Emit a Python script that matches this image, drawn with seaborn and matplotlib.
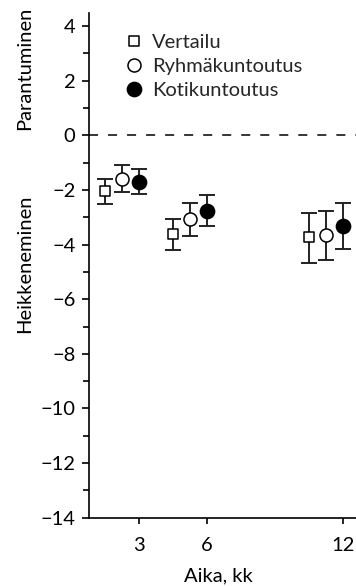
import matplotlib
matplotlib.use("Agg")
import matplotlib.pyplot as plt
import matplotlib.transforms as mtransforms
from matplotlib.ticker import MultipleLocator, FixedLocator
import numpy as np
import pandas as pd
import seaborn as sns

# Change in score over follow-up, mean with 95 % CI
months = [3, 6, 12]
groups = ["Vertailu", "Ryhmäkuntoutus", "Kotikuntoutus"]

vertailu_mean = [-2.05, -3.63, -3.74]
vertailu_low = [-2.52, -4.20, -4.66]
vertailu_high = [-1.61, -3.06, -2.83]

ryhma_mean = [-1.60, -3.07, -3.65]
ryhma_low = [-2.07, -3.68, -4.56]
ryhma_high = [-1.10, -2.49, -2.76]

koti_mean = [-1.70, -2.77, -3.32]
koti_low = [-2.14, -3.32, -4.17]
koti_high = [-1.24, -2.19, -2.47]

yticks = [4, 2, 0, -2, -4, -6, -8, -10, -12, -14]
xticks = [3, 6, 12]

rows = []
for g, m, lo, hi in zip(groups,
                        [vertailu_mean, ryhma_mean, koti_mean],
                        [vertailu_low, ryhma_low, koti_low],
                        [vertailu_high, ryhma_high, koti_high]):
    for t, v, l, h in zip(months, m, lo, hi):
        rows.append({"ryhma": g, "kk": t, "muutos": v, "ala": l, "yla": h})
df = pd.DataFrame(rows)

# horizontal dodge so the three groups sit side by side
dodge = {"Vertailu": -1.5, "Ryhmäkuntoutus": -0.75, "Kotikuntoutus": 0.0}
df["xpos"] = df["kk"] + df["ryhma"].map(dodge)

sns.set_style("ticks")
plt.rcParams["font.family"] = ["Lato", "DejaVu Sans"]
plt.rcParams["axes.unicode_minus"] = True

FS = 14.5

fig = plt.figure(figsize=(3.56, 5.86), dpi=100)
ax = fig.add_axes([0.2508, 0.1166, 0.7492, 0.8612])

style = {
    "Vertailu": dict(marker="s", s=58, facecolor="white"),
    "Ryhmäkuntoutus": dict(marker="o", s=88, facecolor="white"),
    "Kotikuntoutus": dict(marker="o", s=104, facecolor="black"),
}

for g in groups:
    sub = df[df["ryhma"] == g]
    ax.errorbar(sub["xpos"], sub["muutos"],
                yerr=[sub["muutos"] - sub["ala"], sub["yla"] - sub["muutos"]],
                fmt="none", ecolor="#222222", elinewidth=1.4,
                capsize=5.5, capthick=1.4, zorder=2)
    st = style[g]
    sns.scatterplot(data=sub, x="xpos", y="muutos", ax=ax,
                    marker=st["marker"], s=st["s"], color=st["facecolor"],
                    edgecolor="black", linewidth=1.1, zorder=3, label=g,
                    legend=False)

lw0 = 1.1
ax.axhline(0, color="black", lw=lw0, ls=(0, (6.5 / lw0, 7.2 / lw0)), zorder=1)

ax.set_xlim(0.8, 12.56)
ax.set_ylim(-14, 4.48)
ax.xaxis.set_major_locator(FixedLocator(xticks))
ax.yaxis.set_major_locator(FixedLocator(yticks))
ax.yaxis.set_minor_locator(MultipleLocator(1))
ax.set_xticklabels([str(t) for t in xticks])
ax.set_yticklabels([f"{t}".replace("-", "\u2212") for t in yticks])

sns.despine(ax=ax)
for sp in ("left", "bottom"):
    ax.spines[sp].set_linewidth(1.2)
    ax.spines[sp].set_color("black")

ax.tick_params(axis="y", which="major", length=5, width=1.2, pad=5,
               labelsize=FS, colors="black")
ax.tick_params(axis="y", which="minor", length=4, width=1.2, colors="black")
ax.tick_params(axis="x", which="major", length=4.3, width=1.2, pad=9.8,
               labelsize=FS, colors="black")

ax.set_xlabel("Aika, kk", fontsize=FS, color="black")
ax.set_ylabel("")
ax.xaxis.set_label_coords(0.483, -0.0977)
ax.xaxis.label.set_va("top")

trans = mtransforms.blended_transform_factory(fig.transFigure, ax.transData)
ax.text(0.069, 2.45, "Parantuminen", rotation=90, ha="center", va="center",
        fontsize=FS, transform=trans, color="black")
ax.text(0.069, -4.71, "Heikkeneminen", rotation=90, ha="center", va="center",
        fontsize=FS, transform=trans, color="black")

ax.legend(loc="upper left", bbox_to_anchor=(0.130, 0.9584), frameon=False,
          fontsize=FS, handlelength=1.0, handletextpad=0.38, borderpad=0,
          borderaxespad=0, labelspacing=0.34, scatterpoints=1,
          scatteryoffsets=[0.5])

fig.savefig("out.png", dpi=100)
